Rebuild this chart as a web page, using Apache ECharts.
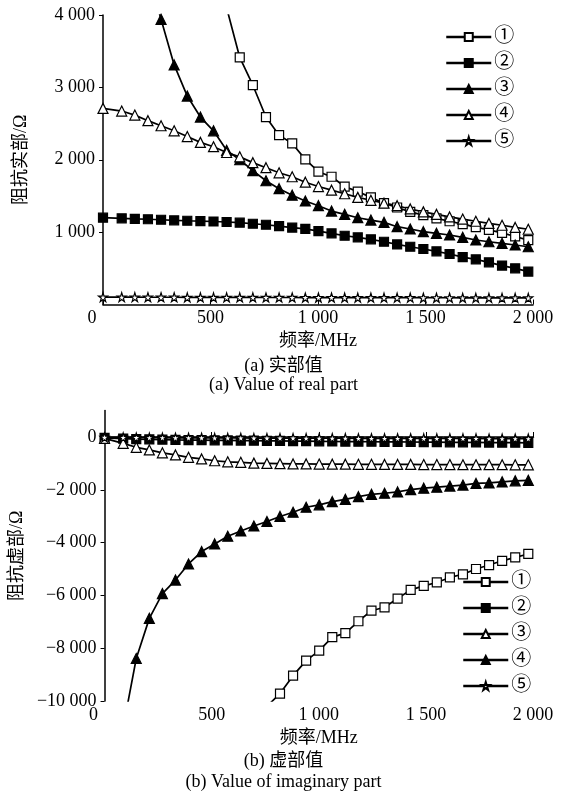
<!DOCTYPE html>
<html>
<head>
<meta charset="utf-8">
<script src="https://cdn.jsdelivr.net/npm/echarts@6/dist/echarts.min.js"></script>
<style>
  html, body { margin: 0; padding: 0; background: #fff; }
  #real-chart { position: absolute; left: 0; top: 0; width: 567px; height: 400px; }
  #imag-chart { position: absolute; left: 0; top: 400px; width: 567px; height: 396px; }
</style>
</head>
<body>
<div id="real-chart"></div>
<div id="imag-chart"></div>
<script>
// frequency points, MHz
const freq = [0, 87, 148, 209, 270, 331, 392, 453, 514, 575, 636, 697, 758, 819, 880, 941, 1002,
  1063, 1124, 1185, 1246, 1307, 1368, 1429, 1490, 1551, 1612, 1673, 1734, 1795, 1856, 1917, 1978];
const seriesNames = ['①', '②', '③', '④', '⑤'];
const xTicks = [0, 500, 1000, 1500, 2000];

// (a) real part, Ω
const real1 = [null, null, null, null, null, null, null, null, null, 4100, 3414, 3030, 2590, 2340, 2225, 2005, 1835,
  1765, 1630, 1560, 1480, 1400, 1340, 1280, 1235, 1190, 1150, 1110, 1070, 1030, 990, 940, 890];
const real2 = [1199, 1191, 1183, 1178, 1171, 1163, 1157, 1152, 1147, 1140, 1130, 1116, 1102, 1084, 1062, 1045, 1015,
  983, 950, 928, 901, 867, 830, 798, 767, 735, 698, 655, 624, 583, 538, 500, 455];
const real3 = [null, null, null, 4600, 3940, 3310, 2880, 2590, 2400, 2130, 2000, 1850, 1710, 1600, 1510, 1430, 1365,
  1291, 1246, 1199, 1167, 1135, 1075, 1043, 1006, 983, 960, 928, 891, 867, 845, 822, 798];
const real4 = [2710, 2673, 2617, 2540, 2470, 2400, 2320, 2240, 2180, 2100, 2040, 1960, 1890, 1820, 1765, 1690, 1630,
  1580, 1530, 1480, 1440, 1400, 1365, 1320, 1280, 1245, 1210, 1180, 1150, 1120, 1095, 1065, 1040];
const real5 = [102, 101, 101, 100, 100, 100, 99, 99, 99, 98, 98, 98, 97, 97, 97, 96, 96,
  96, 95, 95, 95, 94, 94, 94, 93, 93, 93, 92, 92, 92, 91, 91, 91];
const realTicks = [1000, 2000, 3000, 4000];

// (b) imaginary part, Ω
const imag1 = [null, null, null, null, null, null, null, null, null, null, null, null, -10200, -9720, -9040, -8470, -8090,
  -7580, -7430, -6980, -6580, -6450, -6120, -5790, -5640, -5510, -5320, -5200, -5000, -4850, -4690, -4560, -4430];
const imag2 = [-30, -60, -80, -90, -100, -110, -115, -120, -125, -130, -135, -140, -145, -150, -155, -160, -165,
  -170, -175, -178, -180, -183, -186, -190, -193, -196, -200, -203, -206, -210, -213, -216, -220];
const imag3 = [-50, -240, -390, -490, -600, -680, -770, -830, -900, -940, -960, -990, -1000, -1010, -1020, -1020, -1025,
  -1030, -1030, -1035, -1035, -1040, -1040, -1040, -1045, -1045, -1045, -1050, -1050, -1050, -1050, -1055, -1055];
const imag4 = [null, -11000, -8390, -6870, -5930, -5420, -4810, -4340, -4050, -3760, -3560, -3370, -3200, -3010, -2850, -2660, -2570,
  -2450, -2360, -2260, -2170, -2130, -2080, -1990, -1940, -1900, -1860, -1820, -1760, -1740, -1700, -1660, -1640];
const imag5 = [-10, -15, -20, -25, -25, -30, -30, -30, -35, -35, -35, -40, -40, -40, -40, -45, -45,
  -45, -45, -50, -50, -50, -50, -50, -55, -55, -55, -55, -55, -60, -60, -60, -60];
const imagTicks = [-10000, -8000, -6000, -4000, -2000, 0];

const SERIF = '"Liberation Serif", "Times New Roman", "Noto Sans CJK SC", serif';
const STAR = 'path://M50,0 L61,35 L98,35 L68,57 L79,91 L50,70 L21,91 L32,57 L2,35 L39,35 Z';

const fmt = (v) => {
  const s = String(Math.abs(v)).replace(/\B(?=(\d{3})+(?!\d))/g, ' ');
  return (v < 0 ? '\u2212' : '') + s;
};

const pairs = (vals) => freq.map((f, i) => [f, vals[i]]).filter((p) => p[1] !== null);

const makeSeries = (name, vals, symbol, filled, size) => ({
  name,
  type: 'line',
  data: pairs(vals),
  symbol,
  symbolSize: size,
  showAllSymbol: true,
  clip: true,
  lineStyle: { color: '#000', width: 1.7 },
  itemStyle: { color: filled ? '#000' : '#fff', borderColor: '#000', borderWidth: 1.2 },
  emphasis: { disabled: true },
  animation: false,
});

const xAxisOpt = (nameGap) => ({
  type: 'value',
  min: 0,
  max: 2000,
  interval: 500,
  name: '频率/MHz',
  nameLocation: 'middle',
  nameGap,
  nameTextStyle: { fontFamily: SERIF, fontSize: 18, color: '#000' },
  axisLine: { lineStyle: { color: '#000', width: 1.5 } },
  axisTick: { inside: true, length: 5, lineStyle: { color: '#000' } },
  splitLine: { show: false },
  axisLabel: {
    customValues: xTicks,
    margin: 5,
    color: '#000',
    fontFamily: SERIF,
    fontSize: 18,
    formatter: (v) => (v === 0 ? '{z|0}' : fmt(v)),
    rich: { z: { padding: [0, 22, 0, 0], fontFamily: SERIF, fontSize: 18, color: '#000' } },
  },
});

const yAxisOpt = (name, min, max, interval, ticks) => ({
  type: 'value',
  min,
  max,
  interval,
  name,
  nameLocation: 'middle',
  nameGap: 73,
  nameTextStyle: { fontFamily: SERIF, fontSize: 18, color: '#000' },
  axisLine: { show: true, lineStyle: { color: '#000', width: 1.5 } },
  axisTick: { show: true, length: 4, customValues: ticks, lineStyle: { color: '#000' } },
  splitLine: { show: false },
  axisLabel: { customValues: ticks, margin: 8, color: '#000', fontFamily: SERIF, fontSize: 18, formatter: fmt },
});

const legendOpt = (left, top) => ({
  orient: 'vertical',
  left,
  top,
  padding: 0,
  itemWidth: 45,
  itemHeight: 10,
  itemGap: 6,
  selectedMode: false,
  lineStyle: { width: 2.5 },
  textStyle: { fontFamily: SERIF, fontSize: 20, lineHeight: 20, color: '#000', padding: [0, 0, 0, -2] },
  data: seriesNames,
});

const caption = (y, text) => ({
  type: 'text',
  left: 'center',
  top: y,
  style: { text, font: '18px ' + SERIF, fill: '#000' },
});

const realChart = echarts.init(document.getElementById('real-chart'), null, { renderer: 'canvas' });
realChart.setOption({
  animation: false,
  grid: { left: 103, top: 15, width: 430, height: 289.5 },
  legend: legendOpt(445, 27),
  xAxis: xAxisOpt(26),
  yAxis: yAxisOpt('阻抗实部/Ω', 0, 4000, 1000, realTicks),
  graphic: [caption(357, '(a) 实部值'), caption(376, '(a) Value of real part')],
  series: [
    makeSeries('①', real1, 'rect', false, 9),
    makeSeries('②', real2, 'rect', true, 9),
    makeSeries('③', real3, 'triangle', true, 10),
    makeSeries('④', real4, 'triangle', false, 10),
    makeSeries('⑤', real5, STAR, false, 9),
  ],
});

const imagChart = echarts.init(document.getElementById('imag-chart'), null, { renderer: 'canvas' });
imagChart.setOption({
  animation: false,
  grid: { left: 103, top: 10.6, width: 430, height: 290.4 },
  legend: legendOpt(462, 172),
  xAxis: xAxisOpt(26),
  yAxis: yAxisOpt('阻抗虚部/Ω', -10000, 1000, 2000, imagTicks),
  graphic: [caption(352, '(b) 虚部值'), caption(373, '(b) Value of imaginary part')],
  series: [
    makeSeries('①', imag1, 'rect', false, 9),
    makeSeries('②', imag2, 'rect', true, 9),
    makeSeries('③', imag3, 'triangle', false, 10),
    makeSeries('④', imag4, 'triangle', true, 10),
    makeSeries('⑤', imag5, STAR, false, 9),
  ],
});
</script>
</body>
</html>
